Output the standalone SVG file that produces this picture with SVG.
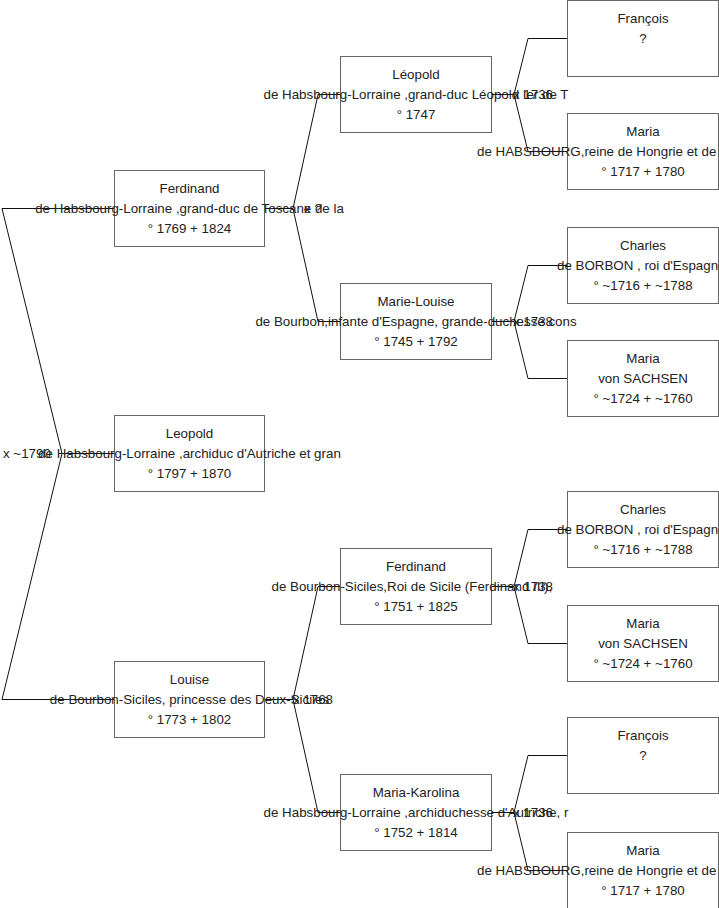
<svg xmlns="http://www.w3.org/2000/svg" width="719" height="908" viewBox="0 0 719 908">
<style>
.box{fill:#fff;stroke:#666;stroke-width:1}
.c{fill:none;stroke:#111;stroke-width:1}
text{font-family:"Liberation Sans",Arial,sans-serif;font-size:13.33px;fill:#222;text-anchor:middle}
.s{text-anchor:start}
</style>
<g id="connectors">
<path class="c" d="M114,453.5H62M114,208.5H2L62,453.5L2,699.5H114"/>
<path class="c" d="M264,208.5H293M340,94.5H318L293,208.5L318,321.5H340"/>
<path class="c" d="M264,699.5H293M340,586.5H318L293,699.5L318,812.5H340"/>
<path class="c" d="M491,94.5H514M567,38.5H528L514,94.5L528,151.5H567"/>
<path class="c" d="M491,321.5H514M567,265.5H528L514,321.5L528,378.5H567"/>
<path class="c" d="M491,586.5H514M567,529.5H528L514,586.5L528,643.5H567"/>
<path class="c" d="M491,812.5H514M567,755.5H528L514,812.5L528,870.5H567"/>
<text class="s" x="3" y="457.5">x ~1790</text>
<text x="313" y="212.5">x ?</text>
<text x="313" y="703.5">x 1768</text>
<text x="533" y="98.5">x 1736</text>
<text x="533" y="325.5">x 1738</text>
<text x="533" y="590.5">x 1738</text>
<text x="533" y="816.5">x 1736</text>
</g>
<g id="leopold-root">
<rect class="box" x="114.5" y="415.5" width="150" height="76"/>
<text x="189.5" y="437.5">Leopold</text>
<text x="189.5" y="457.5">de Habsbourg-Lorraine ,archiduc d'Autriche et gran</text>
<text x="189.5" y="477.5">° 1797 + 1870</text>
</g>
<g id="ferdinand-toscane">
<rect class="box" x="114.5" y="170.5" width="150" height="76"/>
<text x="189.5" y="192.5">Ferdinand</text>
<text x="189.5" y="212.5">de Habsbourg-Lorraine ,grand-duc de Toscane de la</text>
<text x="189.5" y="232.5">° 1769 + 1824</text>
</g>
<g id="louise">
<rect class="box" x="114.5" y="661.5" width="150" height="76"/>
<text x="189.5" y="683.5">Louise</text>
<text x="189.5" y="703.5">de Bourbon-Siciles, princesse des Deux-Siciles</text>
<text x="189.5" y="723.5">° 1773 + 1802</text>
</g>
<g id="leopold-toscane">
<rect class="box" x="340.5" y="56.5" width="151" height="76"/>
<text x="416" y="78.5">Léopold</text>
<text x="416" y="98.5">de Habsbourg-Lorraine ,grand-duc Léopold Ier de T</text>
<text x="416" y="118.5">° 1747</text>
</g>
<g id="marie-louise">
<rect class="box" x="340.5" y="283.5" width="151" height="76"/>
<text x="416" y="305.5">Marie-Louise</text>
<text x="416" y="325.5">de Bourbon,infante d'Espagne, grande-duchesse cons</text>
<text x="416" y="345.5">° 1745 + 1792</text>
</g>
<g id="ferdinand-siciles">
<rect class="box" x="340.5" y="548.5" width="151" height="76"/>
<text x="416" y="570.5">Ferdinand</text>
<text class="s" x="271.5" y="590.5">de Bourbon-Siciles,Roi de Sicile (Ferdinand III),</text>
<text x="416" y="610.5">° 1751 + 1825</text>
</g>
<g id="maria-karolina">
<rect class="box" x="340.5" y="774.5" width="151" height="76"/>
<text x="416" y="796.5">Maria-Karolina</text>
<text x="416" y="816.5">de Habsbourg-Lorraine ,archiduchesse d'Autriche, r</text>
<text x="416" y="836.5">° 1752 + 1814</text>
</g>
<g id="francois-1">
<rect class="box" x="567.5" y="0.5" width="151" height="76"/>
<text x="643" y="22.5">François</text>
<text x="643" y="42.5">?</text>
</g>
<g id="maria-1">
<rect class="box" x="567.5" y="113.5" width="151" height="76"/>
<text x="643" y="135.5">Maria</text>
<text class="s" x="477" y="155.5">de HABSBOURG,reine de Hongrie et de</text>
<text x="643" y="175.5">° 1717 + 1780</text>
</g>
<g id="charles-1">
<rect class="box" x="567.5" y="227.5" width="151" height="76"/>
<text x="643" y="249.5">Charles</text>
<text class="s" x="557" y="269.5">de BORBON , roi d'Espagne</text>
<text x="643" y="289.5">° ~1716 + ~1788</text>
</g>
<g id="maria-sachsen-1">
<rect class="box" x="567.5" y="340.5" width="151" height="76"/>
<text x="643" y="362.5">Maria</text>
<text x="643" y="382.5">von SACHSEN</text>
<text x="643" y="402.5">° ~1724 + ~1760</text>
</g>
<g id="charles-2">
<rect class="box" x="567.5" y="491.5" width="151" height="76"/>
<text x="643" y="513.5">Charles</text>
<text class="s" x="557" y="533.5">de BORBON , roi d'Espagne</text>
<text x="643" y="553.5">° ~1716 + ~1788</text>
</g>
<g id="maria-sachsen-2">
<rect class="box" x="567.5" y="605.5" width="151" height="76"/>
<text x="643" y="627.5">Maria</text>
<text x="643" y="647.5">von SACHSEN</text>
<text x="643" y="667.5">° ~1724 + ~1760</text>
</g>
<g id="francois-2">
<rect class="box" x="567.5" y="717.5" width="151" height="76"/>
<text x="643" y="739.5">François</text>
<text x="643" y="759.5">?</text>
</g>
<g id="maria-2">
<rect class="box" x="567.5" y="832.5" width="151" height="76"/>
<text x="643" y="854.5">Maria</text>
<text class="s" x="477" y="874.5">de HABSBOURG,reine de Hongrie et de</text>
<text x="643" y="894.5">° 1717 + 1780</text>
</g>
</svg>
